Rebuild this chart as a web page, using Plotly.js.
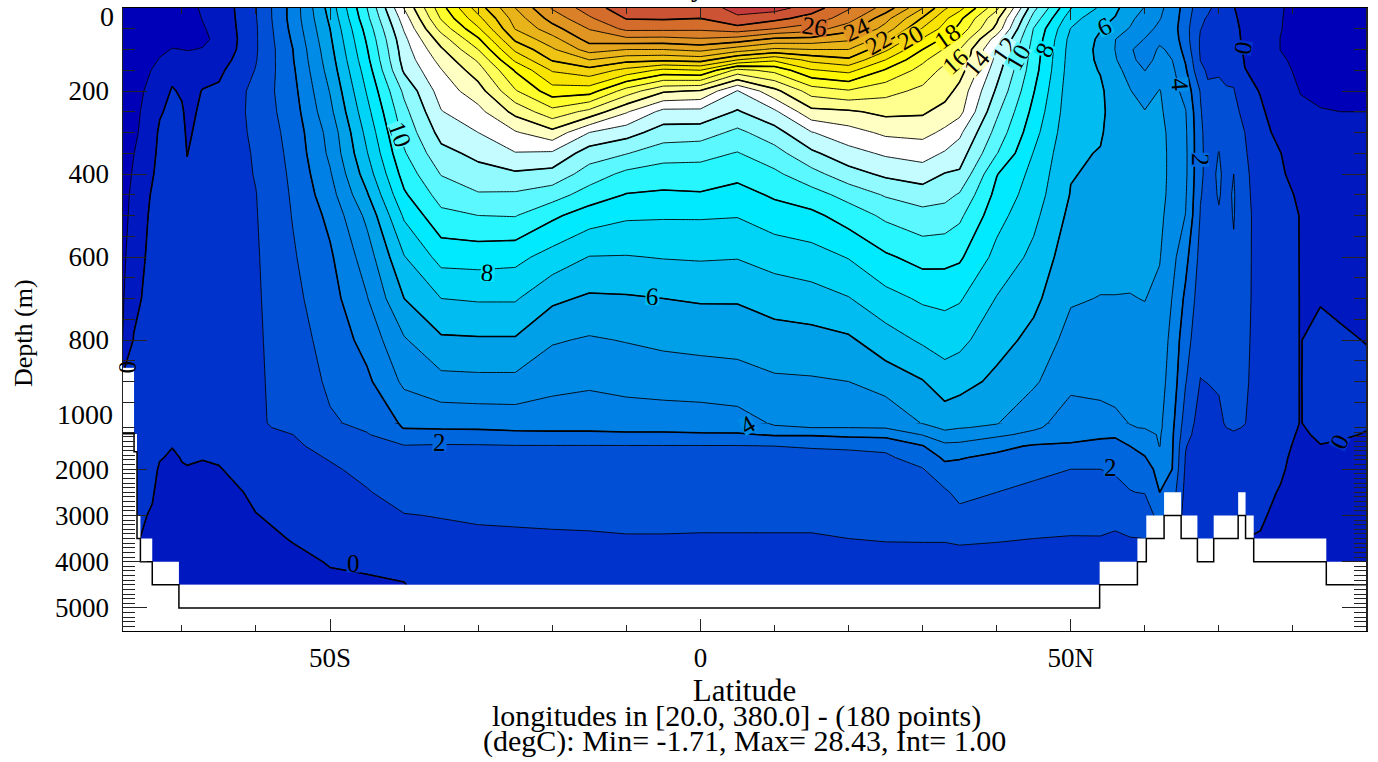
<!DOCTYPE html>
<html><head><meta charset="utf-8">
<script src="https://cdn.plot.ly/plotly-3.0.1.min.js"></script>
<style>html,body{margin:0;padding:0;background:#fff}#chart{width:1378px;height:762px}</style>
</head><body><div id="chart"></div>
<script>
const FONT = '"Liberation Serif", serif';
const depths = [0,25,50,75,100,125,150,200,250,300,350,400,450,500,600,700,800,900,1000,1100,1250,1500,1750,2000,2500,3000,3500,4000,4500];
const lats = [-78,-76.5,-74,-73,-71.3,-70,-69.3,-67.2,-65,-60,-55,-50,-45,-40,-35,-30,-25,-20,-15,-10,-5,0,5,10,15,20,25,30,33,35,40,45,50,54,56,58,60,62,63.7,65.5,67.5,68.5,70,71,72,73.5,75.6,78.3,81,83.7,86.4,89.9];
const tempByLat = [
[-1.6,-1.6,-1.6,-1.6,-1.6,-1.6,-1.6,-1.5,-1.5,-1.5,-1.4,-1.4,-1.3,-1.3,-1.2,-1.1,-1.0,0.2,0.3,0.3,0.3,0.3,0.3,0.3,0.3,0.25,0.1,0,0],
[-1.5,-1.5,-1.5,-1.5,-1.5,-1.4,-1.4,-1.3,-1.25,-1.2,-1.02,-0.9,-0.8,-0.7,-0.5,-0.25,0.05,0.2,0.3,0.3,0.3,0.3,0.3,0.3,0.3,0.25,0.1,0,0],
[-1.5,-1.5,-1.45,-1.4,-1.3,-1.15,-0.97,-0.75,-0.55,-0.38,-0.25,-0.08,0.1,0.2,0.3,0.35,0.4,0.4,0.4,0.4,0.4,0.35,0.3,0.25,0.1,-0.1,-0.2,-0.25,-0.3],
[-1.45,-1.45,-1.4,-1.3,-1.15,-0.95,-0.8,-0.55,-0.1,0.15,0.25,0.3,0.35,0.4,0.45,0.5,0.5,0.5,0.5,0.5,0.5,0.35,0.05,-0.1,-0.3,-0.4,-0.45,-0.5,-0.5],
[-1.45,-1.4,-1.35,-1.2,-0.97,-0.7,-0.35,0.1,0.25,0.35,0.4,0.45,0.5,0.5,0.55,0.6,0.6,0.6,0.6,0.6,0.5,0.02,-0.1,-0.2,-0.3,-0.4,-0.45,-0.5,-0.55],
[-1.4,-1.35,-1.3,-1.15,-1.0,-0.85,-0.65,-0.15,0.15,0.3,0.4,0.45,0.5,0.5,0.55,0.6,0.6,0.6,0.6,0.6,0.55,0.2,0.03,-0.05,-0.2,-0.3,-0.4,-0.45,-0.5],
[-1.25,-1.25,-1.2,-1.1,-1.02,-0.85,-0.7,-0.45,-0.3,-0.15,-0.02,0.1,0.2,0.3,0.4,0.5,0.55,0.6,0.6,0.6,0.55,0.3,0.1,-0.05,-0.2,-0.3,-0.4,-0.45,-0.5],
[-0.9,-0.98,-1.05,-1.08,-0.98,-0.8,-0.5,0.05,0.2,0.3,0.35,0.4,0.45,0.5,0.55,0.6,0.65,0.65,0.7,0.7,0.6,0.3,0.03,-0.1,-0.25,-0.35,-0.45,-0.5,-0.55],
[-0.7,-0.75,-0.8,-0.9,-0.8,-0.5,-0.2,0.15,0.25,0.35,0.4,0.45,0.5,0.5,0.6,0.6,0.65,0.7,0.75,0.75,0.6,0.3,0.1,-0.05,-0.3,-0.4,-0.5,-0.55,-0.6],
[0.98,0.95,0.9,0.9,0.9,0.95,1.05,1.3,1.3,1.2,1.1,1.05,0.98,0.95,0.9,0.87,0.85,0.85,0.85,0.85,0.8,0.7,0.6,0.45,0.15,-0.02,-0.25,-0.35,-0.4],
[3.4,3.4,3.3,3.15,3.0,2.95,2.85,2.7,2.55,2.4,2.3,2.2,2.12,2.05,1.9,1.75,1.6,1.45,1.35,1.2,1,0.85,0.75,0.65,0.4,0.2,0.05,-0.2,-0.3],
[6.4,6.2,6.0,5.85,5.7,5.55,5.4,5.05,4.75,4.35,4.2,3.9,3.6,3.25,2.85,2.6,2.35,2.15,1.9,1.8,1.65,1.3,1.05,0.9,0.6,0.4,0.2,0.05,-0.15],
[10,9.75,9.4,9.15,8.95,8.75,8.5,8.1,7.7,7.3,6.95,6.5,5.9,5.25,4.5,3.95,3.35,2.8,2.2,2.1,1.95,1.65,1.45,1.2,0.95,0.7,0.45,0.12,-0.1],
[14.05,13.5,13.1,12.75,12.55,12.4,12.15,11.2,10.7,10.3,9.9,9.4,8.85,8.15,6.95,6.0,4.9,4.2,3.15,3.05,2.6,1.95,1.75,1.65,1.3,0.97,0.75,0.22,-0.03],
[17.6,17.1,16.35,15.5,14.85,14.35,13.95,13.45,12.95,12.35,11.7,11.05,10.4,9.75,8.35,7.0,5.85,4.7,3.3,3.1,2.6,1.9,1.72,1.62,1.3,1.03,0.8,0.6,0.45],
[20.5,19.7,18.85,17.85,17,16.15,15.55,14.55,13.7,13,12.25,11.65,10.9,10.0,8.4,7.1,5.9,4.75,3.35,3.1,2.7,1.9,1.75,1.65,1.4,1.1,0.85,0.65,0.5],
[23,22.45,22.05,21.2,20.2,19.2,18.1,16.9,15.3,13.9,12.95,11.85,10.85,10.05,8.3,7.1,5.9,4.75,3.4,3.2,2.75,1.95,1.75,1.65,1.45,1.1,0.9,0.7,0.55],
[25.1,24.4,23.6,22.65,21.85,21.1,20.1,18.55,16.65,14.7,12.85,11.65,10.45,9.2,7.6,6.2,5.1,4.3,3.45,3.2,2.8,1.95,1.75,1.65,1.45,1.15,0.9,0.7,0.55],
[26.5,25.85,25.05,24.4,23.45,22,20.65,18.45,15.7,13,11.5,10.55,9.55,8.5,6.97,5.85,4.9,4.15,3.45,3.2,2.8,1.95,1.75,1.65,1.45,1.2,0.9,0.7,0.55],
[27.6,27.05,26.25,24.75,23,21.35,19.7,16.55,14.1,12.4,11.05,9.75,8.95,8.15,6.95,5.9,5.05,4.3,3.5,3.25,2.85,1.95,1.75,1.65,1.45,1.2,0.95,0.7,0.55],
[27.7,27.1,26.25,24.7,23,21.2,18.75,15.15,12.7,11.55,10.45,9.5,8.85,8.1,7.05,6,5.2,4.45,3.45,3.25,2.85,1.95,1.75,1.65,1.4,1.2,0.95,0.7,0.55],
[27.7,27,26.2,24.9,23.3,21.4,19,14.9,12.7,11.5,10.3,9.6,8.9,8.1,7.1,6.1,5.3,4.5,3.5,3.3,2.9,1.95,1.75,1.6,1.35,1.15,0.95,0.7,0.55],
[28.2,27.9,26.6,24.6,22.5,20,16.7,12.95,11.9,10.75,9.95,9.3,8.6,8.05,7.05,6.1,5.35,4.6,3.6,3.35,2.9,1.95,1.75,1.6,1.35,1.15,0.95,0.7,0.55],
[28.4,27.3,26,23.8,21.8,19.2,17.3,14.7,12.8,11.6,10.6,9.8,9.15,8.5,7.4,6.4,5.6,4.85,4.1,3.9,3.1,2,1.75,1.6,1.35,1.15,0.95,0.7,0.55],
[27.5,26.6,25.5,23.7,22,20.3,18.9,16.45,14.7,12.95,11.8,10.65,9.6,8.75,7.6,6.6,5.65,4.9,4.15,4,3.1,2.05,1.8,1.6,1.35,1.15,0.95,0.7,0.55],
[26.1,25.5,24.4,23.2,22,20.8,19.3,16.9,14.85,13.6,12.65,11.6,10.35,9.45,8.05,6.95,5.85,5,4.1,4,3.25,2.1,1.8,1.6,1.35,1.15,1,0.7,0.55],
[24.6,23.35,22.6,21.4,20.2,19,17.9,16.35,15.25,14.2,13.15,12.2,11.1,10.2,8.85,7.65,6.55,5.45,4.2,4.05,3.3,2.2,1.85,1.65,1.35,1.15,1.05,0.7,0.55],
[22.05,20.9,19.9,18.9,18,17.2,16.65,15.75,15.15,14.3,13.4,12.5,11.5,10.65,9.35,8.15,7.15,5.95,5.05,4.65,4.05,2.95,2.4,1.95,1.6,1.35,1.05,0.75,0.55],
[20.15,19.2,18.65,17.8,16.9,16.25,15.7,15.45,14.6,13.8,12.9,11.95,11.3,10.55,9.3,8.25,7.4,6.55,5.4,5.2,4.65,3.75,3.15,2.7,1.85,1.5,1.05,0.75,0.55],
[19.35,18.25,17.7,16.85,16,15.85,15.45,14.65,14.3,13.2,12.5,11.85,10.9,10.2,9.15,8.1,7.25,6.4,5.2,5.05,4.5,3.75,3.05,2.75,2.3,1.7,1.1,0.75,0.55],
[16.25,15.25,14.7,13.5,12.9,12.7,12.4,11.85,11.2,10.65,10.05,9.05,8.7,8.35,7.7,6.95,6.4,5.75,5.05,4.85,4.2,3.25,2.8,2.55,2,1.5,1.05,0.75,0.55],
[11.3,10.6,9.95,9.75,9.6,9.5,9.4,9.05,8.7,8.35,7.95,7.7,7.5,7.25,6.75,6.25,5.7,5.15,4.25,4.15,3.75,2.9,2.6,2.15,1.85,1.5,1,0.75,0.55],
[8.05,7.4,6.97,6.7,6.6,6.55,6.5,6.4,6.35,6.25,6.15,6.05,5.95,5.75,5.4,5.1,4.65,4.2,3.6,3.5,3.25,2.9,2.45,2,1.7,1.35,0.95,0.75,0.55],
[6.85,6.3,6.05,5.85,5.8,5.85,5.95,6.15,6.2,6.1,5.95,5.85,5.75,5.6,5.3,4.97,4.65,4.25,3.7,3.55,3.15,2.75,2.4,2,1.7,1.4,0.95,0.7,0.5],
[6.2,5.95,5.35,5.02,4.98,5.1,5.3,5.55,5.6,5.6,5.55,5.5,5.45,5.35,5.2,4.98,4.6,4.25,3.85,3.7,3.1,2.75,2.45,2.15,1.6,1.2,0.9,0.7,0.5],
[5.5,5.2,4.95,4.4,4.1,4.2,4.65,5.05,5.25,5.3,5.3,5.3,5.3,5.3,5.2,4.97,4.6,4.3,4.02,3.95,3.3,3,2.55,2.25,1.97,1.45,0.97,0.7,0.5],
[4.95,4.6,4.3,3.97,3.6,3.7,3.98,4.5,5.05,5.2,5.25,5.3,5.3,5.25,5.15,5.02,4.75,4.55,4.2,4.05,3.65,3.3,2.95,2.6,2.05,1.2,1.0,0.7,0.5],
[4.2,4.05,3.8,3.85,4.1,4.25,4.45,5.05,5.15,5.25,5.25,5.25,5.25,5.2,5.05,4.8,4.6,4.4,4.2,4.2,4.1,4.03,3.6,3.3,3,2.5,2,1.5,1],
[3.6,3.5,3.45,3.6,3.85,4,4.2,4.4,4.6,4.75,4.8,4.8,4.75,4.6,4.3,3.97,3.7,3.55,3.25,3.2,3.15,3.1,3.05,3,2.5,2,1.5,1,0.8],
[2.6,2.5,2.35,2.4,2.6,2.9,3.15,3.65,4.05,4.15,4.2,4.2,4.1,3.98,3.3,2.8,2.4,2.05,1.55,1.45,1.35,1.05,0.95,0.85,0.7,0.6,0.5,0.5,0.5],
[1.35,1.1,1.02,0.9,0.9,0.98,1.15,1.95,2.1,2.2,2.2,2.15,2.05,1.95,1.7,1.5,1.3,0.97,0.6,0.55,0.5,0.45,0.4,0.35,0.3,0.3,0.25,0.2,0.2],
[1.1,0.95,0.85,0.8,0.8,0.85,0.92,1.1,1.4,1.6,1.7,1.75,1.75,1.7,1.55,1.35,1.15,1.02,0.6,0.55,0.5,0.45,0.4,0.35,0.3,0.25,0.25,0.2,0.2],
[0.8,0.75,0.72,0.7,0.75,0.8,0.95,1.1,1.5,1.8,2.02,2.1,2.05,1.95,1.6,1.4,1.2,1.05,0.9,0.85,0.75,0.6,0.5,0.4,0.3,0.25,0.2,0.15,0.1],
[0.4,0.45,0.5,0.5,0.55,0.65,0.85,1.05,1.35,1.55,1.7,1.8,1.8,1.75,1.6,1.45,1.3,1.2,1.05,1,0.85,0.55,0.45,0.35,0.25,0.15,0.15,0.1,0.1],
[0.02,0.1,0.2,0.25,0.35,0.5,0.75,1.05,1.3,1.55,1.8,2.0,2.08,2.05,1.9,1.55,1.4,1.3,1.15,1.1,0.9,0.5,0.4,0.3,0.2,0.1,0.1,0,0],
[-0.2,-0.2,-0.18,-0.15,-0.1,-0.05,0.02,0.35,0.7,1,1.1,1.2,1.25,1.3,1.25,1.2,1.15,1.1,1.02,0.95,0.8,0.4,0.3,0.2,0.1,0.05,0,-0.1,-0.1],
[-0.5,-0.5,-0.5,-0.45,-0.4,-0.3,-0.2,-0.05,0.15,0.3,0.4,0.5,0.55,0.6,0.65,0.7,0.7,0.7,0.65,0.65,0.6,0.5,0.4,0.3,0.2,0.1,-0.05,-0.15,-0.2],
[-0.92,-0.95,-0.97,-1.01,-1.01,-0.9,-0.8,-0.65,-0.5,-0.25,0.02,0.1,0.2,0.25,0.3,0.35,0.35,0.35,0.35,0.35,0.3,0.25,0.15,0.1,-0.05,-0.2,-0.3,-0.35,-0.4],
[-1.35,-1.35,-1.3,-1.3,-1.25,-1.2,-1.15,-1.02,-0.9,-0.7,-0.5,-0.3,-0.1,-0.02,-0.02,-0.02,-0.02,-0.02,-0.02,-0.05,-0.1,-0.2,-0.25,-0.3,-0.35,-0.4,-0.45,-0.5,-0.5],
[-1.55,-1.55,-1.55,-1.5,-1.5,-1.45,-1.4,-1.2,-0.95,-0.75,-0.65,-0.55,-0.5,-0.4,-0.3,-0.05,0.2,0.25,0.2,0.15,0.1,-0.02,-0.15,-0.25,-0.35,-0.45,-0.5,-0.55,-0.55],
[-1.6,-1.6,-1.6,-1.6,-1.55,-1.5,-1.45,-1.3,-1.0,-0.8,-0.7,-0.6,-0.5,-0.4,-0.3,-0.12,0.08,0.2,0.1,0.08,0.05,-0.05,-0.15,-0.25,-0.35,-0.45,-0.5,-0.55,-0.6],
[-1.6,-1.6,-1.6,-1.6,-1.55,-1.5,-1.45,-1.35,-1.0,-0.8,-0.7,-0.6,-0.5,-0.4,-0.3,-0.15,-0.02,0.15,0.05,0.02,-0.02,-0.1,-0.2,-0.25,-0.35,-0.45,-0.5,-0.55,-0.6]
];
const bandColors = ['#0000B8','#0018C0','#0033CC','#004FD4','#0066DD','#007FE5','#008CE6','#00A0E8','#00BCF0','#00D4F6','#00EAFF','#28F6FF','#5CF8FF','#90FAFF','#C4FCFF','#FFFFFF','#FFFFC4','#FFFF90','#FFFF5C','#FFFF2C','#FFF800','#F8E400','#F4D40C','#EFC414','#E8B41A','#E4A41E','#E09422','#D98028','#D46C2C','#CC5434','#C43A3C'];
// top of the missing-data area
const maskLat = [-78,-76.46,-76.46,-76.06,-76.06,-75.6,-75.6,-74,-74,-70.4,-70.4,53.9,53.9,59,59,60.2,60.2,62.6,62.6,64.9,64.9,67.1,67.1,69.3,69.3,72.6,72.6,73.6,73.6,74.7,74.7,84.5,84.5,89.9,89.9,-78];
const maskDepth = [1000,1000,1240,1240,3000,3000,3500,3500,4000,4000,4500,4500,4000,4000,3500,3500,3000,3000,2500,2500,3000,3000,3500,3500,3000,3000,2500,2500,3000,3000,3500,3500,4000,4000,5500,5500];
const shelfLat = [-78,-76.46,-76.46,-78];
const shelfDepth = [867,867,1000,1000];
// sea floor outline
const floorLat = [-78,-76.46,-76.46,-76.06,-76.06,-75.6,-75.6,-74,-74,-70.4,-70.4,53.9,53.9,59,59,60.2,60.2,62.6,62.6,64.9,64.9,67.1,67.1,69.3,69.3,72.6,72.6,73.6,73.6,74.7,74.7,84.5,84.5,89.9];
const floorDepth = [1230,1230,1620,1620,3500,3500,4000,4000,4500,4500,5000,5000,4500,4500,4000,4000,3500,3500,3000,3000,3500,3500,4000,4000,3500,3500,3000,3000,3500,3500,4000,4000,4500,4500];
// contour labels: text, latitude, depth, angle, band colour index (-1 = none), panel
const labelText  = ['26','24','22','20','18','16','14','12','10','8','6','10','8','6','4','2','0','2','4','2','0','0','0'];
const labelLat   = [15.4,21.1,24.0,28.3,33.3,34.4,37.4,41.1,42.9,46.5,54.6,-40.6,-28.7,-6.4,64.7,67.4,73.3,-35.2,6.4,55.3,-46.8,86.3,-77.4];
const labelDepth = [45,52,84,72,69,129,132,100,120,100,45,305,638,696,185,366,96,1420,1030,1960,4030,1400,865];
const labelAngle = [8,-25,-30,-30,-35,-42,-50,-55,-60,-65,-25,70,5,3,85,90,-80,0,-30,0,0,-65,90];
const labelBand  = [28,26,24,22,20,18,16,14,12,10,8,12,10,8,6,4,2,4,6,4,2,2,-1];
const labelPanel = [1,1,1,1,1,1,1,1,1,1,1,1,1,1,1,1,1,2,2,2,2,2,1];

const cs = bandColors.map((c,i)=>[i/(bandColors.length-1),c]);
function fillTrace(xa,ya){return {type:'contour',x:lats,y:depths,z:tempByLat,transpose:true,xaxis:xa,yaxis:ya,
  autocontour:false,contours:{start:-1,end:28,size:1,coloring:'fill',showlines:true},colorscale:cs,showscale:false,
  line:{color:'#000',width:0.9,smoothing:0},hoverinfo:'skip'};}
function thickTrace(xa,ya){return {type:'contour',x:lats,y:depths,z:tempByLat,transpose:true,xaxis:xa,yaxis:ya,
  autocontour:false,contours:{start:0,end:27,size:3,coloring:'none',showlines:true},showscale:false,
  line:{color:'#000',width:1.6,smoothing:0},hoverinfo:'skip'};}
const data = [
  fillTrace('x2','y'),thickTrace('x2','y'),fillTrace('x','y2'),thickTrace('x','y2'),
  {type:'scatter',mode:'none',x:shelfLat,y:shelfDepth,xaxis:'x2',yaxis:'y',fill:'toself',fillcolor:'#fff',hoverinfo:'skip'},
  {type:'scatter',mode:'none',x:maskLat,y:maskDepth,xaxis:'x',yaxis:'y2',fill:'toself',fillcolor:'#fff',hoverinfo:'skip'},
  {type:'scatter',mode:'lines',x:floorLat,y:floorDepth,xaxis:'x',yaxis:'y2',line:{color:'#000',width:1.5},hoverinfo:'skip'}
];
const PL=123,PR=1366.5,PT=8,PB=631;
const px=(v)=>(v-PL)/(PR-PL), py=(v)=>(PB-v)/(PB-PT);
const ann = labelText.map((t,i)=>({text:t,x:labelLat[i],y:labelDepth[i],
  xref:labelPanel[i]===1?'x2':'x',yref:labelPanel[i]===1?'y':'y2',showarrow:false,textangle:labelAngle[i],height:17,
  font:{family:FONT,size:25,color:'#000'},bgcolor:labelBand[i]<0?'rgba(0,0,0,0)':bandColors[labelBand[i]],borderpad:0}));
function note(t,xp,yp,size,angle){return {text:t,xref:'paper',yref:'paper',x:px(xp),y:py(yp),xanchor:'center',yanchor:'middle',showarrow:false,textangle:angle||0,font:{family:FONT,size:size,color:'#000'}};}
ann.push(note('Depth (m)',23,333,26,-90));
ann.push(note('longitudes in [20.0, 380.0] - (180 points)',737,716,30));
ann.push(note('(degC): Min= -1.71, Max= 28.43, Int= 1.00',744.5,741,30));
ann.push(note('0',107,16,28));
ann.push(note('1000',85,414,28));
ann.push(note('y',698,-13,28));
const axisCol='#222';
const layout = {
  width:1378,height:762,paper_bgcolor:'#fff',plot_bgcolor:'#fff',showlegend:false,
  margin:{l:PL,r:1378-PR,t:PT,b:762-PB,pad:0},
  font:{family:FONT,size:27,color:'#000'},
  xaxis:{domain:[0,1],anchor:'y2',range:[-77.95,89.86],tickmode:'array',tickvals:[-50,0,50],ticktext:['50S','0','50N'],
    ticks:'inside',ticklen:12,tickcolor:axisCol,tickwidth:1,ticklabelstandoff:3,showgrid:false,zeroline:false,
    showline:true,linecolor:'#000',linewidth:1,mirror:true,
    minor:{dtick:10,tick0:0,ticks:'inside',ticklen:6,tickcolor:axisCol,tickwidth:1,showgrid:false},
    title:{text:'Latitude',standoff:0,font:{family:FONT,size:31}},tickfont:{family:FONT,size:27}},
  xaxis2:{domain:[0,1],anchor:'y',side:'top',range:[-77.95,89.86],tickmode:'array',tickvals:[-50,0,50],showticklabels:false,
    ticks:'inside',ticklen:12,tickcolor:axisCol,tickwidth:1,showgrid:false,zeroline:false,showline:true,linecolor:'#000',linewidth:1.5,
    minor:{dtick:10,tick0:0,ticks:'inside',ticklen:6,tickcolor:axisCol,tickwidth:1,showgrid:false}},
  yaxis:{domain:[(PB-423)/(PB-PT),1],anchor:'x2',range:[1000,0],tickmode:'array',tickvals:[0,200,400,600,800],ticktext:['','200','400','600','800'],
    ticks:'inside',ticklen:24,tickcolor:axisCol,tickwidth:1,ticklabelstandoff:7,showgrid:false,zeroline:false,showline:true,linecolor:axisCol,linewidth:1.5,mirror:'allticks',
    minor:{dtick:50,tick0:0,ticks:'inside',ticklen:12,tickcolor:axisCol,tickwidth:1,showgrid:false},tickfont:{family:FONT,size:27}},
  yaxis2:{domain:[0,(PB-423)/(PB-PT)],anchor:'x',range:[5500,1000],tickmode:'array',tickvals:[2000,3000,4000,5000],ticktext:['2000','3000','4000','5000'],
    ticks:'inside',ticklen:24,tickcolor:axisCol,tickwidth:1,ticklabelstandoff:7,showgrid:false,zeroline:false,showline:true,linecolor:axisCol,linewidth:1.5,mirror:'allticks',
    minor:{dtick:100,tick0:1000,ticks:'inside',ticklen:12,tickcolor:axisCol,tickwidth:1,showgrid:false},tickfont:{family:FONT,size:27}},
  annotations:ann
};
Plotly.newPlot('chart',data,layout,{displayModeBar:false,staticPlot:true});
</script></body></html>
